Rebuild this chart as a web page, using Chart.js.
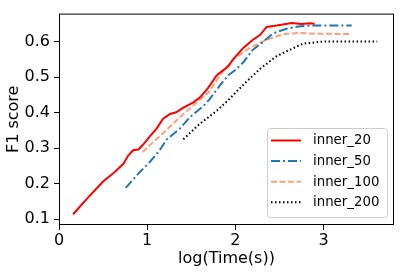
<!DOCTYPE html>
<html>
<head>
<meta charset="utf-8">
<script src="https://cdn.jsdelivr.net/npm/chart.js@4/dist/chart.umd.min.js"></script>
<style>html,body{margin:0;padding:0;background:#fff;}canvas{display:block;}</style>
</head>
<body>
<canvas id="c" width="400" height="272"></canvas>
<script>
const seriesNames = ['inner_20', 'inner_50', 'inner_100', 'inner_200'];

const x20 = [0.16,0.31,0.50,0.615,0.73,0.785,0.84,0.90,0.955,1.03,1.107,1.18,1.26,1.33,1.41,1.52,1.60,1.69,1.79,1.92,1.975,2.09,2.20,2.28,2.355,2.47,2.64,2.75,2.85,2.90];
const y20 = [0.114,0.156,0.206,0.229,0.256,0.279,0.294,0.296,0.310,0.333,0.355,0.383,0.396,0.401,0.414,0.428,0.443,0.469,0.505,0.530,0.550,0.582,0.605,0.618,0.641,0.645,0.652,0.649,0.651,0.650];

const x50 = [0.757,0.917,1.03,1.14,1.22,1.37,1.485,1.64,1.71,1.83,1.92,2.0,2.09,2.20,2.32,2.43,2.58,2.735,2.85,3.32];
const y50 = [0.188,0.233,0.261,0.293,0.324,0.355,0.387,0.419,0.438,0.478,0.505,0.520,0.541,0.577,0.600,0.623,0.636,0.643,0.645,0.645];

const x100 = [0.948,1.09,1.18,1.37,1.56,1.71,1.825,1.975,2.165,2.355,2.545,2.735,2.9,3.30];
const y100 = [0.289,0.322,0.342,0.387,0.428,0.460,0.505,0.550,0.582,0.605,0.621,0.624,0.622,0.621];

const x200 = [1.41,1.60,1.79,1.92,2.09,2.28,2.47,2.62,2.77,3.0,3.61];
const y200 = [0.325,0.369,0.405,0.435,0.478,0.523,0.559,0.577,0.594,0.600,0.600];

const xTicks = [0, 1, 2, 3];
const yTicks = [0.1, 0.2, 0.3, 0.4, 0.5, 0.6];

const xs = [x20, x50, x100, x200];
const ys = [y20, y50, y100, y200];
const colors = ['#ff0000', '#1f77b4', '#ffa07a', '#000000'];
const dashes = [[], [9, 3, 2, 3], [6, 2.5], [1.5, 2.5]];

Chart.defaults.font.family = "'DejaVu Sans', sans-serif";
Chart.defaults.color = '#000';

const datasets = seriesNames.map((n, i) => ({
  label: n,
  data: xs[i].map((x, j) => ({x: x, y: ys[i][j]})),
  borderColor: colors[i],
  backgroundColor: colors[i],
  borderWidth: 2,
  borderDash: dashes[i],
  pointRadius: 0,
  tension: 0,
  fill: false
}));

const framePlugin = {
  id: 'frame',
  afterDatasetsDraw(chart) {
    const {ctx, chartArea: a} = chart;
    ctx.save();
    ctx.strokeStyle = '#000';
    ctx.lineWidth = 1;
    ctx.strokeRect(a.left + 0.5, a.top + 0.5, a.right - a.left - 1, a.bottom - a.top - 1);
    // legend
    const bw = 120, bh = 89;
    const bx = a.right - 7 - bw, by = a.bottom - 8 - bh;
    ctx.beginPath();
    if (ctx.roundRect) ctx.roundRect(bx + 0.5, by + 0.5, bw, bh, 3); else ctx.rect(bx + 0.5, by + 0.5, bw, bh);
    ctx.fillStyle = 'rgba(255,255,255,0.8)';
    ctx.fill();
    ctx.strokeStyle = '#cccccc';
    ctx.stroke();
    ctx.font = "13.33px 'DejaVu Sans'";
    ctx.textBaseline = 'middle';
    ctx.textAlign = 'left';
    chart.data.datasets.forEach((d, i) => {
      const yy = by + 12.5 + i * 20.6;
      ctx.beginPath();
      ctx.setLineDash(d.borderDash);
      ctx.strokeStyle = d.borderColor;
      ctx.lineWidth = 2;
      ctx.moveTo(bx + 4, yy);
      ctx.lineTo(bx + 34, yy);
      ctx.stroke();
      ctx.setLineDash([]);
      ctx.fillStyle = '#000';
      ctx.fillText(d.label, bx + 46, yy + 0.5);
    });
    ctx.restore();
  }
};

new Chart(document.getElementById('c'), {
  type: 'line',
  data: {datasets},
  plugins: [framePlugin],
  options: {
    responsive: false,
    animation: false,
    devicePixelRatio: 1,
    layout: {padding: {top: 6, right: 6, left: 0, bottom: 0}},
    plugins: {legend: {display: false}, tooltip: {enabled: false}},
    scales: {
      x: {
        type: 'linear',
        min: 0, max: 3.8,
        afterBuildTicks: s => { s.ticks = xTicks.map(v => ({value: v})); },
        afterFit: s => { s.height = 47; },
        ticks: {font: {size: 16}, color: '#000', padding: 1, maxRotation: 0, callback: v => String(v)},
        grid: {drawOnChartArea: false, drawTicks: true, tickLength: 5, color: '#000', lineWidth: 1},
        border: {display: false},
        title: {display: true, text: 'log(Time(s))', font: {size: 16}, color: '#000', padding: {top: 0, bottom: 4}}
      },
      y: {
        type: 'linear',
        min: 0.0837, max: 0.6785,
        afterBuildTicks: s => { s.ticks = yTicks.map(v => ({value: v})); },
        afterFit: s => { s.width = 59; },
        ticks: {font: {size: 16}, color: '#000', padding: 4, callback: v => v.toFixed(1)},
        grid: {drawOnChartArea: false, drawTicks: true, tickLength: 5, color: '#000', lineWidth: 1},
        border: {display: false},
        title: {display: true, text: 'F1 score', font: {size: 16}, color: '#000', padding: {top: 4, bottom: 4}}
      }
    }
  }
});
</script>
</body>
</html>
